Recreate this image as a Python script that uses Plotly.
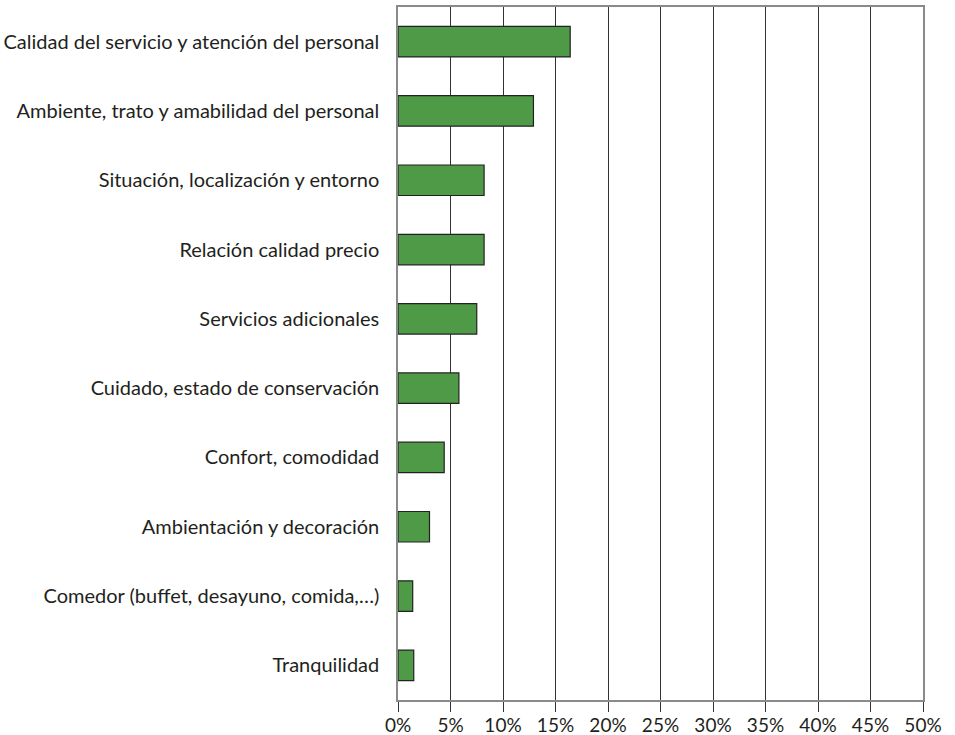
import plotly.graph_objects as go

categories = [
    "Calidad del servicio y atención del personal",
    "Ambiente, trato y amabilidad del personal",
    "Situación, localización y entorno",
    "Relación calidad precio",
    "Servicios adicionales",
    "Cuidado, estado de conservación",
    "Confort, comodidad",
    "Ambientación y decoración",
    "Comedor (buffet, desayuno, comida,…)",
    "Tranquilidad",
]
values = [16.4, 12.9, 8.2, 8.2, 7.5, 5.8, 4.4, 3.0, 1.4, 1.5]
tick_values = [0, 5, 10, 15, 20, 25, 30, 35, 40, 45, 50]
tick_labels = [f"{v}%" for v in tick_values]

fig = go.Figure(go.Bar(
    x=values, y=categories, orientation="h",
    marker=dict(color="#4f9a46", line=dict(color="#222222", width=1.2)),
    width=0.44,
))

fig.update_layout(
    width=955, height=735,
    margin=dict(l=398, r=32, t=7, b=35),
    paper_bgcolor="white", plot_bgcolor="white",
    font=dict(family="Lato, 'Open Sans', sans-serif", size=19, color="#231f20"),
    showlegend=False,
)
fig.update_xaxes(
    range=[0, 50], tickvals=tick_values, ticktext=tick_labels,
    showgrid=True, gridcolor="#333333", gridwidth=1.3,
    showline=True, linecolor="#8a8a8a", linewidth=1.5, mirror=True,
    ticks="outside", ticklen=10, tickcolor="#333333", tickwidth=1.3,
    zeroline=False, tickfont=dict(size=19), automargin=False,
    ticklabelstandoff=-3,
)
fig.update_yaxes(
    categoryorder="array", categoryarray=categories, autorange="reversed",
    showgrid=False, showline=True, linecolor="#8a8a8a", linewidth=1.5, mirror=True,
    ticks="", ticklabelstandoff=13, tickfont=dict(size=20), automargin=False,
)

fig.write_html("out.html", config={"displayModeBar": False},
               post_script="document.body.style.margin='0px';")
